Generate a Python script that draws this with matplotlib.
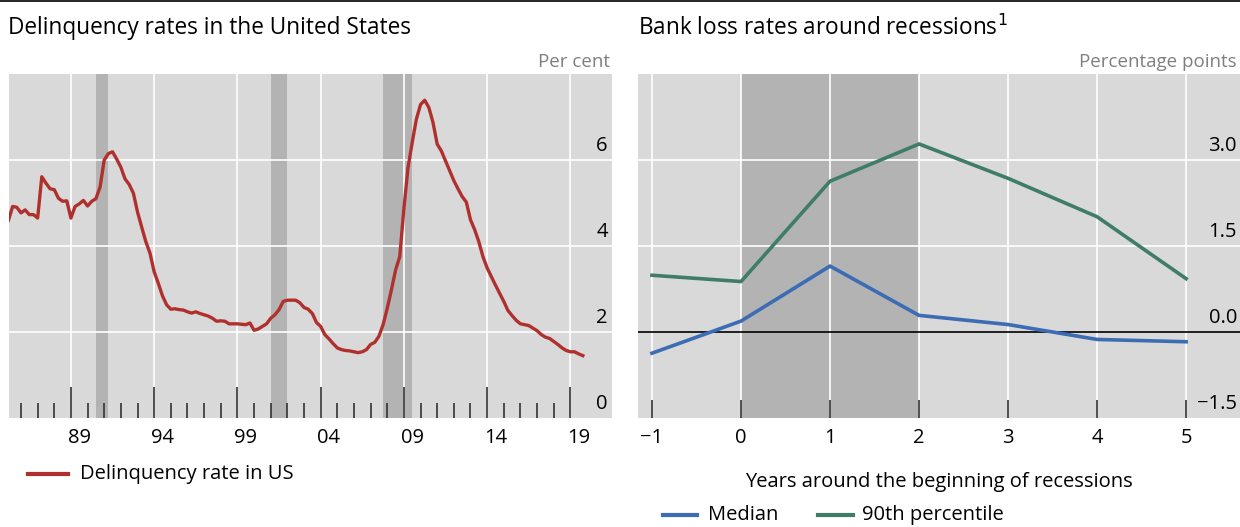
import numpy as np
import matplotlib
matplotlib.use("Agg")
import matplotlib.pyplot as plt
import matplotlib.transforms as mtransforms
from matplotlib.lines import Line2D

plt.rcParams['font.family'] = ['Open Sans', 'DejaVu Sans']

# Left panel: quarterly delinquency rate (per cent), 1985 Q1 .. 2019 Q3
start_year = 1985.25
rate = [4.60, 4.92, 4.90, 4.77, 4.84, 4.73, 4.73, 4.65,
        5.61, 5.46, 5.33, 5.31, 5.11, 5.04, 5.05, 4.65,
        4.92, 4.98, 5.06, 4.93, 5.04, 5.10, 5.37, 6.00,
        6.15, 6.19, 6.02, 5.83, 5.56, 5.43, 5.23, 4.79,
        4.44, 4.10, 3.83, 3.40, 3.13, 2.84, 2.63, 2.53,
        2.54, 2.52, 2.51, 2.47, 2.44, 2.47, 2.43, 2.40,
        2.37, 2.32, 2.25, 2.26, 2.25, 2.19, 2.19, 2.19,
        2.18, 2.17, 2.21, 2.04, 2.07, 2.13, 2.19, 2.32,
        2.40, 2.52, 2.71, 2.74, 2.74, 2.74, 2.68, 2.57,
        2.53, 2.43, 2.22, 2.13, 1.94, 1.84, 1.73, 1.63,
        1.59, 1.57, 1.56, 1.54, 1.52, 1.54, 1.59, 1.71,
        1.76, 1.90, 2.17, 2.55, 2.98, 3.44, 3.75, 4.87,
        5.83, 6.41, 6.95, 7.29, 7.39, 7.22, 6.87, 6.37,
        6.21, 5.98, 5.75, 5.52, 5.33, 5.15, 5.02, 4.61,
        4.38, 4.10, 3.75, 3.49, 3.29, 3.09, 2.90, 2.71,
        2.50, 2.38, 2.27, 2.19, 2.17, 2.15, 2.09, 2.03,
        1.94, 1.88, 1.85, 1.78, 1.71, 1.63, 1.57, 1.54,
        1.54, 1.49, 1.45]
recessions = [(1990.5, 1991.25), (2001.0, 2002.0), (2007.75, 2009.5)]
year_labels = ['89', '94', '99', '04', '09', '14', '19']
label_years = [1989, 1994, 1999, 2004, 2009, 2014, 2019]

# Right panel: bank loss rates around recessions (percentage points)
rel_years = [-1, 0, 1, 2, 3, 4, 5]
median = [-0.37, 0.19, 1.15, 0.29, 0.13, -0.13, -0.17]
pct90 = [0.99, 0.88, 2.63, 3.28, 2.68, 2.01, 0.93]
rec_window = (0, 2)

bg = '#d9d9d9'
shade = '#b3b3b3'
red = '#b0302d'
blue = '#3b6cb4'
green = '#3f7d68'
grey_txt = '#7f7f7f'
fs = 14.5      # tick labels, legend
fs_unit = 13.5
fs_title = 16.3

fig = plt.figure(figsize=(12.4, 5.27), dpi=100)
fig.add_artist(Line2D([0, 1], [0.998, 0.998], color='black', lw=1.2,
                      transform=fig.transFigure))

# ---------------- left panel ----------------
ax1 = fig.add_axes([9 / 1240, 1 - 418 / 527, 603 / 1240, 344 / 527])
ax1.set_facecolor(bg)
for s in ax1.spines.values():
    s.set_visible(False)
ax1.set_xlim(1985.28, 2021.5)
ax1.set_ylim(0, 8)

for a, b in recessions:
    ax1.axvspan(a, b, color=shade, lw=0, zorder=1)
for y in [2, 4, 6]:
    ax1.axhline(y, color='white', lw=1.2, zorder=1.5)
for yr in label_years:
    ax1.axvline(yr, color='white', lw=1.2, zorder=1.5)

years = start_year + 0.25 * np.arange(len(rate))
ax1.plot(years, rate, color=red, lw=2.4, zorder=3)

ax1.set_xticks(label_years)
ax1.set_xticks(np.arange(1986, 2020), minor=True)
ax1.tick_params(axis='x', which='major', direction='in', length=22, width=1.2,
                color='#333333', labelbottom=False)
ax1.tick_params(axis='x', which='minor', direction='in', length=11, width=1.2,
                color='#333333')
ax1.tick_params(axis='y', left=False, labelleft=False)
tr = mtransforms.blended_transform_factory(ax1.transData, ax1.transAxes)
for yr, lab in zip(label_years, year_labels):
    ax1.text(yr + 0.5, -0.03, lab, transform=tr, ha='center', va='top', fontsize=fs)
tr = mtransforms.blended_transform_factory(ax1.transAxes, ax1.transData)
for y in [0, 2, 4, 6]:
    ax1.text(0.993, y + 0.1, str(y), transform=tr, ha='right', va='bottom', fontsize=fs)

fig.text(8 / 1240, 1 - 28 / 527, 'Delinquency rates in the United States',
         fontsize=fs_title, va='center', ha='left')
fig.text(610 / 1240, 1 - 62 / 527, 'Per cent', fontsize=fs_unit, color=grey_txt,
         va='center', ha='right')
fig.add_artist(Line2D([28 / 1240, 68 / 1240], [1 - 474 / 527] * 2, color=red, lw=3,
                      transform=fig.transFigure))
fig.text(80 / 1240, 1 - 474 / 527, 'Delinquency rate in US', fontsize=fs,
         va='center', ha='left')

# ---------------- right panel ----------------
ax2 = fig.add_axes([638 / 1240, 1 - 418 / 527, 602 / 1240, 344 / 527])
ax2.set_facecolor(bg)
for s in ax2.spines.values():
    s.set_visible(False)
ax2.set_xlim(-1.157, 5.605)
ax2.set_ylim(-1.5, 4.5)

ax2.axvspan(rec_window[0], rec_window[1], color=shade, lw=0, zorder=1)
for y in [1.5, 3.0]:
    ax2.axhline(y, color='white', lw=1.2, zorder=1.5)
for x in rel_years:
    ax2.axvline(x, color='white', lw=1.2, zorder=1.5)
ax2.axhline(0, color='black', lw=1.2, zorder=2)

ax2.plot(rel_years, pct90, color=green, lw=2.6, zorder=3)
ax2.plot(rel_years, median, color=blue, lw=2.6, zorder=3)

ax2.set_xticks(rel_years)
ax2.set_xticklabels(['\u22121' if x == -1 else str(x) for x in rel_years], fontsize=fs)
ax2.tick_params(axis='x', direction='in', length=13, width=1.2, color='#333333', pad=7)
ax2.tick_params(axis='y', left=False, labelleft=False)
tr = mtransforms.blended_transform_factory(ax2.transAxes, ax2.transData)
for y in [-1.5, 0.0, 1.5, 3.0]:
    lab = f'{y:.1f}'.replace('-', '\u2212')
    ax2.text(0.995, y + 0.07, lab, transform=tr, ha='right', va='bottom', fontsize=fs)

fig.text(638 / 1240, 1 - 28 / 527, 'Bank loss rates around recessions$^{1}$',
         fontsize=fs_title, va='center', ha='left')
fig.text(1237 / 1240, 1 - 62 / 527, 'Percentage points', fontsize=fs_unit, color=grey_txt,
         va='center', ha='right')
fig.text(939 / 1240, 1 - 482 / 527, 'Years around the beginning of recessions',
         fontsize=fs, va='center', ha='center')
fig.add_artist(Line2D([663 / 1240, 697 / 1240], [1 - 515 / 527] * 2, color=blue, lw=3,
                      transform=fig.transFigure))
fig.text(708 / 1240, 1 - 515 / 527, 'Median', fontsize=fs, va='center', ha='left')
fig.add_artist(Line2D([818 / 1240, 853 / 1240], [1 - 515 / 527] * 2, color=green, lw=3,
                      transform=fig.transFigure))
fig.text(862 / 1240, 1 - 515 / 527, '90th percentile', fontsize=fs, va='center', ha='left')

fig.savefig('out.png', dpi=100)
